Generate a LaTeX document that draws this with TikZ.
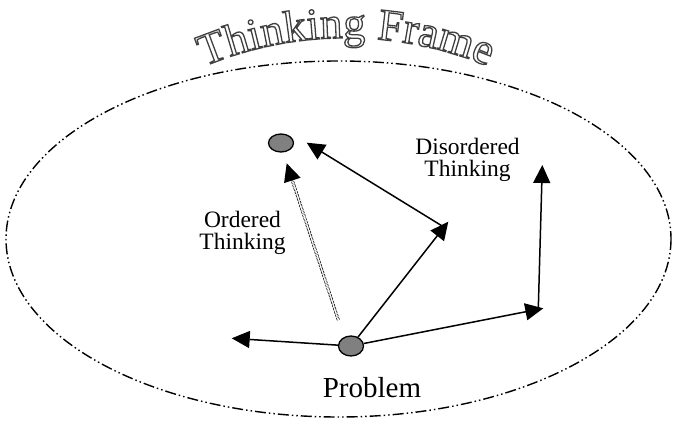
\documentclass[tikz,border=0pt]{standalone}
\usepackage{fontspec}
\setmainfont{Liberation Serif}
\usetikzlibrary{arrows.meta,shapes.geometric,decorations.text,calc}

% hollow letters for the title
\newcommand{\outlinetext}{\special{pdf:literal direct 1.3 w 1 Tr}}

\begin{document}
\begin{tikzpicture}[x=1pt,y=-1pt,
  dot/.style={ellipse,draw,line width=1.3pt,fill=gray,minimum width=25pt,minimum height=18pt,inner sep=0pt},
  arr/.style={line width=1.5pt,-{Triangle[length=18pt,width=17pt]}},
  ordline/.style={line width=0.7pt,double,double distance=1.5pt,dash pattern=on 2.5pt off 1pt},
  lbl/.style={font=\fontsize{23.5}{22}\selectfont,align=center,inner sep=0pt}]
  \useasboundingbox (0,0) rectangle (676,427);
  % the frame
  \draw[line width=1.4pt,dash pattern=on 11pt off 3pt on 1.5pt off 3pt on 1.5pt off 3pt]
    (338.5,239) ellipse [x radius=332.5,y radius=178];
  % problem and goal
  \node[dot] (top) at (281,143) {};
  \node[dot,minimum height=20pt] (prob) at (351,346) {};
  \node[lbl,font=\fontsize{29}{29}\selectfont,anchor=base] (plabel) at (372,397) {Problem};
  \node[lbl] (ordered) at (242.5,232.5) {Ordered\\Thinking};
  \node[lbl] (disordered) at (467.5,160.3) {Disordered\\Thinking};
  % free ends of the arrows
  \coordinate (lft) at (231.7,338.3);
  \coordinate (mid) at (448.3,221.7);
  \coordinate (topr) at (306.7,142.7);
  \coordinate (rgt) at (543.3,308.3);
  \coordinate (up) at (542.3,165);
  \coordinate (ordend) at (286.7,163.3);
  \coordinate (ordstart) at (338.3,320);
  \coordinate (ordtip) at ($(ordend)!18pt!(ordstart)$);
  % disordered thinking
  \draw[arr] (prob) -- (lft);
  \draw[arr] (prob) -- (mid);
  \draw[arr] ([xshift=-5pt,yshift=-5pt]mid) -- (topr);
  \draw[arr] (prob) -- (rgt);
  \draw[arr] ([xshift=-5pt]rgt) -- (up);
  % ordered thinking
  \draw[ordline] (ordstart) -- (ordtip);
  \draw[arr] (ordtip) -- (ordend);
  % title
  \path[decorate,decoration={text along path,text align=center,
    text={|\fontsize{45}{45}\selectfont\color{black!75}\outlinetext|Thinking Frame}}]
    (346,406) ++(-120:368) arc[start angle=-120,end angle=-60,radius=368];
\end{tikzpicture}
\end{document}
